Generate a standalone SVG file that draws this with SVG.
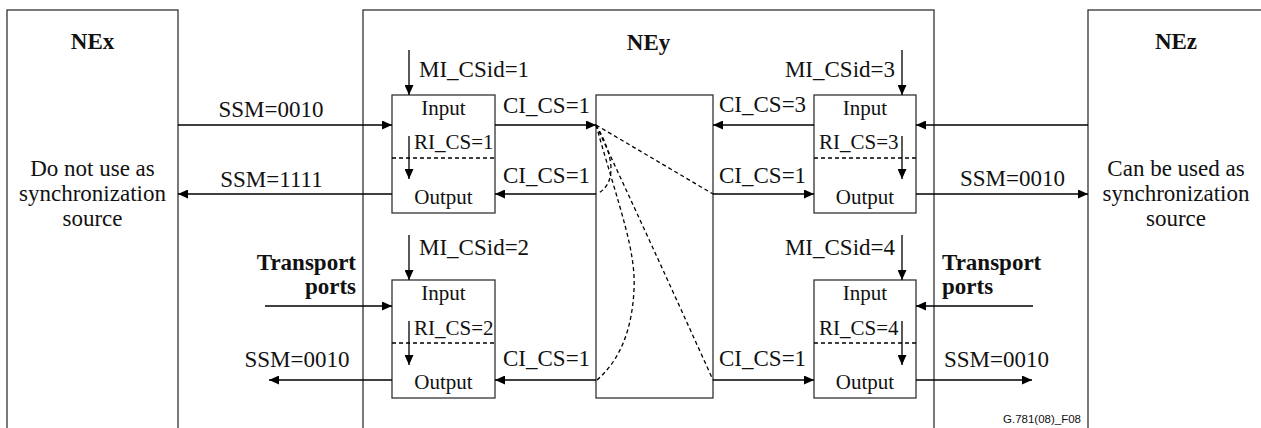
<svg xmlns="http://www.w3.org/2000/svg" width="1261" height="428" viewBox="0 0 1261 428">
<style>
.box{fill:none;stroke:#333;stroke-width:1.3}
.ln{fill:none;stroke:#000;stroke-width:1.3}
.ln2{fill:none;stroke:#000;stroke-width:1.6}
.dash{fill:none;stroke:#000;stroke-width:1.3;stroke-dasharray:4,3}
.t{font-family:"Liberation Serif","Times New Roman",serif;font-size:23px;fill:#111}
.s{font-family:"Liberation Serif","Times New Roman",serif;font-size:21px;fill:#111}
.b{font-family:"Liberation Serif","Times New Roman",serif;font-size:23px;font-weight:bold;fill:#111}
.m{text-anchor:middle}
.e{text-anchor:end}
.f{font-family:"Liberation Sans",Arial,sans-serif;font-size:11.5px;fill:#111}
</style>
<defs>
<marker id="ah" markerUnits="userSpaceOnUse" markerWidth="10" markerHeight="9" refX="10" refY="4.5" orient="auto">
<path d="M0,0 L10,4.5 L0,9 z" fill="#000"/>
</marker>
</defs>
<rect width="1261" height="428" fill="#fff"/>

<g id="NEx">
<rect class="box" x="7" y="10" width="171" height="440"/>
<text class="b m" x="92.5" y="49">NEx</text>
<text class="t m" x="92.5" y="176">Do not use as</text>
<text class="t m" x="92.5" y="201">synchronization</text>
<text class="t m" x="92.5" y="226">source</text>
</g>

<g id="NEy">
<rect class="box" x="363" y="10" width="571" height="440"/>
<text class="b m" x="648.5" y="50">NEy</text>
</g>

<g id="NEz">
<rect class="box" x="1088" y="10" width="200" height="440"/>
<text class="b m" x="1176" y="49">NEz</text>
<text class="t m" x="1176" y="176">Can be used as</text>
<text class="t m" x="1176" y="201">synchronization</text>
<text class="t m" x="1176" y="226">source</text>
</g>

<g id="switch">
<rect class="box" x="596" y="95" width="117" height="303"/>
</g>

<g id="port1">
<rect class="box" x="392" y="95" width="103" height="118"/>
<line class="dash" x1="392" y1="158" x2="495" y2="158"/>
<text class="s m" x="443.5" y="115">Input</text>
<text class="s" x="414" y="149">RI_CS=1</text>
<text class="s m" x="443.5" y="204">Output</text>
</g>

<g id="port2">
<rect class="box" x="392" y="280" width="103" height="118"/>
<line class="dash" x1="392" y1="343" x2="495" y2="343"/>
<text class="s m" x="443.5" y="300">Input</text>
<text class="s" x="414" y="335">RI_CS=2</text>
<text class="s m" x="443.5" y="389">Output</text>
</g>

<g id="port3">
<rect class="box" x="814" y="95" width="102" height="118"/>
<line class="dash" x1="814" y1="158" x2="916" y2="158"/>
<text class="s m" x="865" y="115">Input</text>
<text class="s" x="819" y="149">RI_CS=3</text>
<text class="s m" x="865" y="204">Output</text>
</g>

<g id="port4">
<rect class="box" x="814" y="280" width="102" height="118"/>
<line class="dash" x1="814" y1="343" x2="916" y2="343"/>
<text class="s m" x="865" y="300">Input</text>
<text class="s" x="819" y="335">RI_CS=4</text>
<text class="s m" x="865" y="389">Output</text>
</g>

<g id="connectors">
<!-- left side -->
<line class="ln" x1="178" y1="125" x2="392" y2="125" marker-end="url(#ah)"/>
<line class="ln" x1="392" y1="194" x2="178" y2="194" marker-end="url(#ah)"/>
<line class="ln2" x1="265" y1="306" x2="392" y2="306" marker-end="url(#ah)"/>
<line class="ln2" x1="392" y1="380" x2="269" y2="380" marker-end="url(#ah)"/>
<!-- MI arrows -->
<line class="ln" x1="409" y1="50" x2="409" y2="95" marker-end="url(#ah)"/>
<line class="ln" x1="409" y1="235" x2="409" y2="280" marker-end="url(#ah)"/>
<line class="ln" x1="902" y1="50" x2="902" y2="95" marker-end="url(#ah)"/>
<line class="ln" x1="902" y1="235" x2="902" y2="280" marker-end="url(#ah)"/>
<!-- RI arrows -->
<line class="ln" x1="409" y1="136" x2="409" y2="179" marker-end="url(#ah)"/>
<line class="ln" x1="409" y1="321" x2="409" y2="365" marker-end="url(#ah)"/>
<line class="ln" x1="902" y1="136" x2="902" y2="179" marker-end="url(#ah)"/>
<line class="ln" x1="902" y1="321" x2="902" y2="365" marker-end="url(#ah)"/>
<!-- ports to switch -->
<line class="ln" x1="495" y1="125" x2="596" y2="125" marker-end="url(#ah)"/>
<line class="ln" x1="596" y1="194" x2="495" y2="194" marker-end="url(#ah)"/>
<line class="ln2" x1="596" y1="380" x2="495" y2="380" marker-end="url(#ah)"/>
<line class="ln" x1="814" y1="125" x2="713" y2="125" marker-end="url(#ah)"/>
<line class="ln" x1="713" y1="194" x2="814" y2="194" marker-end="url(#ah)"/>
<line class="ln2" x1="713" y1="380" x2="814" y2="380" marker-end="url(#ah)"/>
<!-- right side -->
<line class="ln" x1="1088" y1="125" x2="916" y2="125" marker-end="url(#ah)"/>
<line class="ln" x1="916" y1="194" x2="1088" y2="194" marker-end="url(#ah)"/>
<line class="ln2" x1="1033" y1="306" x2="916" y2="306" marker-end="url(#ah)"/>
<line class="ln2" x1="916" y1="380" x2="1032" y2="380" marker-end="url(#ah)"/>
<!-- switch dashed cross-connects -->
<path class="dash" d="M596,125 L713,194"/>
<path class="dash" d="M596,125 C611,150 620,182 597,194"/>
<path class="dash" d="M596,125 C620,210 636,250 634,290 C632,330 620,360 597,380"/>
<path class="dash" d="M596,125 Q652,245 713,380"/>
<!-- connector labels -->
<text class="t m" x="271" y="117">SSM=0010</text>
<text class="t m" x="271.5" y="187">SSM=1111</text>
<text class="b e" x="356" y="270">Transport</text>
<text class="b e" x="356" y="294">ports</text>
<text class="t m" x="297" y="367">SSM=0010</text>
<text class="t" x="419" y="77">MI_CSid=1</text>
<text class="t" x="419" y="255">MI_CSid=2</text>
<text class="t e" x="895" y="77">MI_CSid=3</text>
<text class="t e" x="895" y="255">MI_CSid=4</text>
<text class="t" x="503" y="113">CI_CS=1</text>
<text class="t" x="503" y="183">CI_CS=1</text>
<text class="t" x="503" y="366">CI_CS=1</text>
<text class="t" x="719" y="112">CI_CS=3</text>
<text class="t" x="719" y="183">CI_CS=1</text>
<text class="t" x="719" y="366">CI_CS=1</text>
<text class="t m" x="1012.5" y="186">SSM=0010</text>
<text class="b" x="942" y="270">Transport</text>
<text class="b" x="942" y="294">ports</text>
<text class="t" x="944" y="367">SSM=0010</text>
</g>
<text class="f" x="1003" y="423">G.781(08)_F08</text>
</svg>
